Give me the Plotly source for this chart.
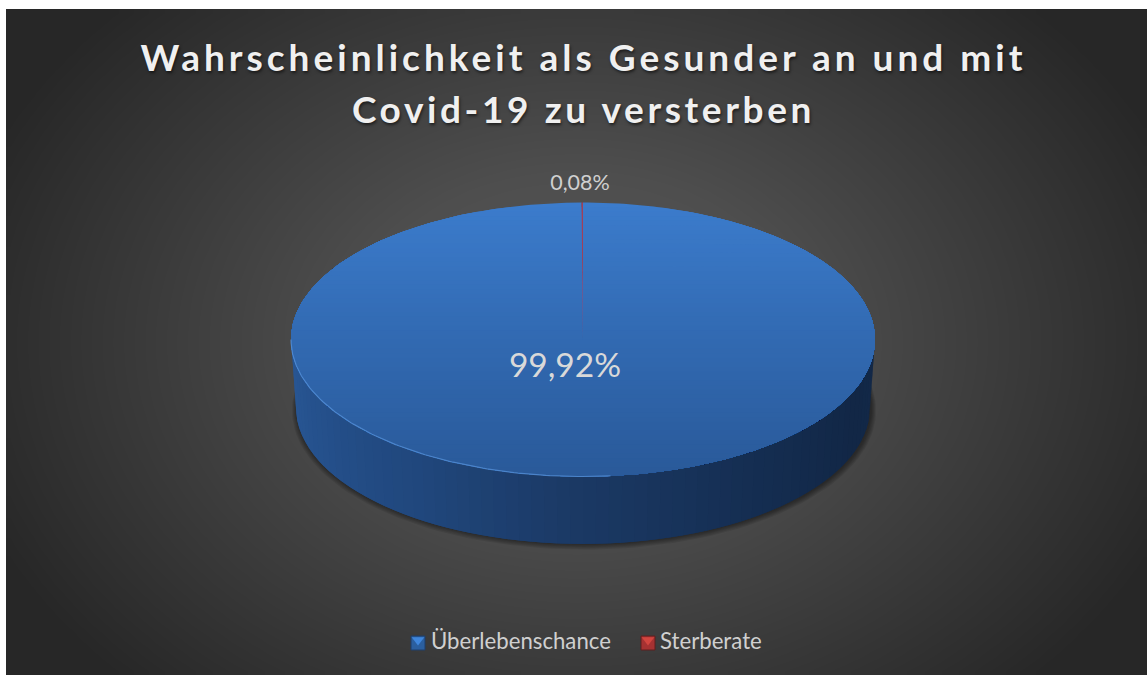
import numpy as np
import plotly.graph_objects as go

W, H = 1147, 675
labels = ["Überlebenschance", "Sterberate"]
shares = [99.92, 0.08]
title_lines = ["Wahrscheinlichkeit als Gesunder an und mit", "Covid-19 zu versterben"]

# geometry of the projected disc (px)
CX, CY, RX, RY = 583, 339.5, 292, 137
BCY, BRX, BRY = 407.5, 287, 136.5
FONT = "Lato"

def lerp(stops, t):
    xs = [s[0] for s in stops]
    return "rgb(%d,%d,%d)" % tuple(np.interp(t, xs, [s[1][i] for s in stops]) for i in range(3))

fig = go.Figure()

# background: radial gradient
NX, NY = 150, 90
bx = 6 + (np.arange(NX) + 0.5) * (W - 6) / NX
by = 9 + (np.arange(NY) + 0.5) * (H - 9) / NY
gx, gy = np.meshgrid(bx, by)
radial = np.sqrt(((gx - 577) / 640) ** 2 + ((gy - 342) / 480) ** 2)
fig.add_trace(go.Heatmap(x=bx, y=by, z=np.clip(radial, 0, 1), zmin=0, zmax=1, zsmooth="best",
                         colorscale=[[0, "#585858"], [0.35, "#4e4e4e"], [0.7, "#393939"], [1, "#272727"]],
                         showscale=False, hoverinfo="skip"))

def poly(x, y, color):
    fig.add_trace(go.Scatter(x=x, y=y, mode="lines", fill="toself", fillcolor=color,
                             line=dict(width=0, color=color), showlegend=False, hoverinfo="skip"))

# soft shadow under the body
shadow_angle = np.linspace(0, 2 * np.pi, 181)
for d in [5, 4, 3, 2, 1]:
    poly(CX + 1 + (BRX + d) * np.sin(shadow_angle), BCY + d * 0.6 - (BRY + d * 0.5) * np.cos(shadow_angle),
         "rgba(0,0,0,0.09)")

# wall of the cylinder, painted left to right with overlapping strips
wall_stops = [(0, (42, 88, 150)), (0.12, (38, 82, 142)), (0.3, (33, 72, 126)), (0.5, (27, 57, 100)),
              (0.7, (21, 46, 82)), (0.88, (18, 39, 70)), (1, (20, 42, 74))]
ts = np.linspace(0, 1, 71)
for k in range(70):
    a = np.pi * np.linspace(ts[k], ts[min(k + 2, 70)], 8)
    xt = CX - RX * np.cos(a)
    yt = CY + RY * np.sin(a) - 3
    xb = CX - BRX * np.cos(a)
    yb = BCY + BRY * np.sin(a)
    poly(np.r_[xt, xb[::-1]], np.r_[yt, yb[::-1]], lerp(wall_stops, (ts[k] + ts[k + 1]) / 2))

# slices on the top face: angle 0 at 12 o'clock, clockwise
fracs = np.array(shares) / sum(shares)
blue_end = 2 * np.pi * fracs[0]
top_stops = [(0, (60, 124, 204)), (0.5, (50, 106, 178)), (1, (42, 90, 154))]
ys = np.linspace(CY - RY, CY + RY, 61)
theta = np.linspace(0, blue_end, 361)
sx = np.r_[CX, CX + RX * np.sin(theta), CX]
sy = np.r_[CY, CY - RY * np.cos(theta), CY]
for k in range(60):
    half = RX * np.sqrt(max(0.0, 1 - ((ys[k] - CY) / RY) ** 2))
    cut = sy < ys[k]
    px = np.where(cut, np.clip(sx, CX - half, CX + half), sx)
    poly(px, np.maximum(sy, ys[k]), lerp(top_stops, k / 59))

# small slice
th2 = np.linspace(blue_end, 2 * np.pi, 5)
poly(np.r_[CX, CX + RX * np.sin(th2), CX], np.r_[CY, CY - RY * np.cos(th2), CY], "rgba(175,60,90,0.85)")

# light rim on the front left edge
rim = np.linspace(0.97 * np.pi, 1.5 * np.pi, 121)
fig.add_trace(go.Scatter(x=CX + RX * np.sin(rim), y=CY - RY * np.cos(rim), mode="lines",
                         line=dict(color="rgba(90,150,222,0.7)", width=1.2), showlegend=False, hoverinfo="skip"))

# data labels
fmt = lambda v: f"{v:.2f}%".replace(".", ",")
fig.add_trace(go.Scatter(x=[565], y=[369], mode="text", text=[fmt(shares[0])], showlegend=False, hoverinfo="skip",
                         textfont=dict(family=FONT, size=33.5, color="#d9d9d9")))
fig.add_trace(go.Scatter(x=[580], y=[185], mode="text", text=[fmt(shares[1])], showlegend=False, hoverinfo="skip",
                         textfont=dict(family=FONT, size=21.5, color="#d0d0d0")))

# legend: bevelled key + text
key_x = [418, 648]
text_x = [431, 660]
LEG_Y = 643
key_base = ["#2b5f9f", "#a63232"]
key_top = ["#3f86dc", "#d2453f"]
key_edge = ["#1f3f6a", "#5e1f1f"]
for name, kx, tx, b, t, e in zip(labels, key_x, text_x, key_base, key_top, key_edge):
    fig.add_trace(go.Scatter(x=[kx], y=[LEG_Y], mode="markers", name=name, showlegend=False, hoverinfo="skip",
                             marker=dict(symbol="square", size=14, color=b, line=dict(color=e, width=1))))
    fig.add_trace(go.Scatter(x=[kx], y=[LEG_Y - 3], mode="markers", showlegend=False, hoverinfo="skip",
                             marker=dict(symbol="triangle-down", size=11, color=t, line=dict(width=0))))
    fig.add_trace(go.Scatter(x=[tx], y=[LEG_Y], mode="text", text=[name], textposition="middle right",
                             showlegend=False, hoverinfo="skip",
                             textfont=dict(family=FONT, size=22.2, color="#d0d0d0")))

fig.update_layout(
    width=W, height=H, margin=dict(l=0, r=0, t=0, b=0),
    paper_bgcolor="white", plot_bgcolor="rgba(0,0,0,0)", showlegend=False,
    xaxis=dict(range=[0, W], visible=False, fixedrange=True),
    yaxis=dict(range=[H, 0], visible=False, fixedrange=True),
    title=dict(text="<br>".join(title_lines), x=0.5087, xanchor="center", y=0.895, yanchor="bottom",
               font=dict(family=FONT, size=37, weight="bold", color="#f0f0f0", shadow="1px 2px 3px rgba(0,0,0,0.55)")),
)
post = """
document.body.style.margin = '0';
document.documentElement.style.overflow = 'hidden';
var t = document.querySelector('.gtitle');
if (t) {
  t.style.letterSpacing = '4px';
  var ls = t.querySelectorAll('tspan.line');
  if (ls.length > 1) {
    ls[1].setAttribute('y', parseFloat(ls[1].getAttribute('y')) + 4);
    ls[1].style.letterSpacing = '3.6px';
  }
}
"""
fig.write_html("out.html", post_script=post, config=dict(displayModeBar=False))
